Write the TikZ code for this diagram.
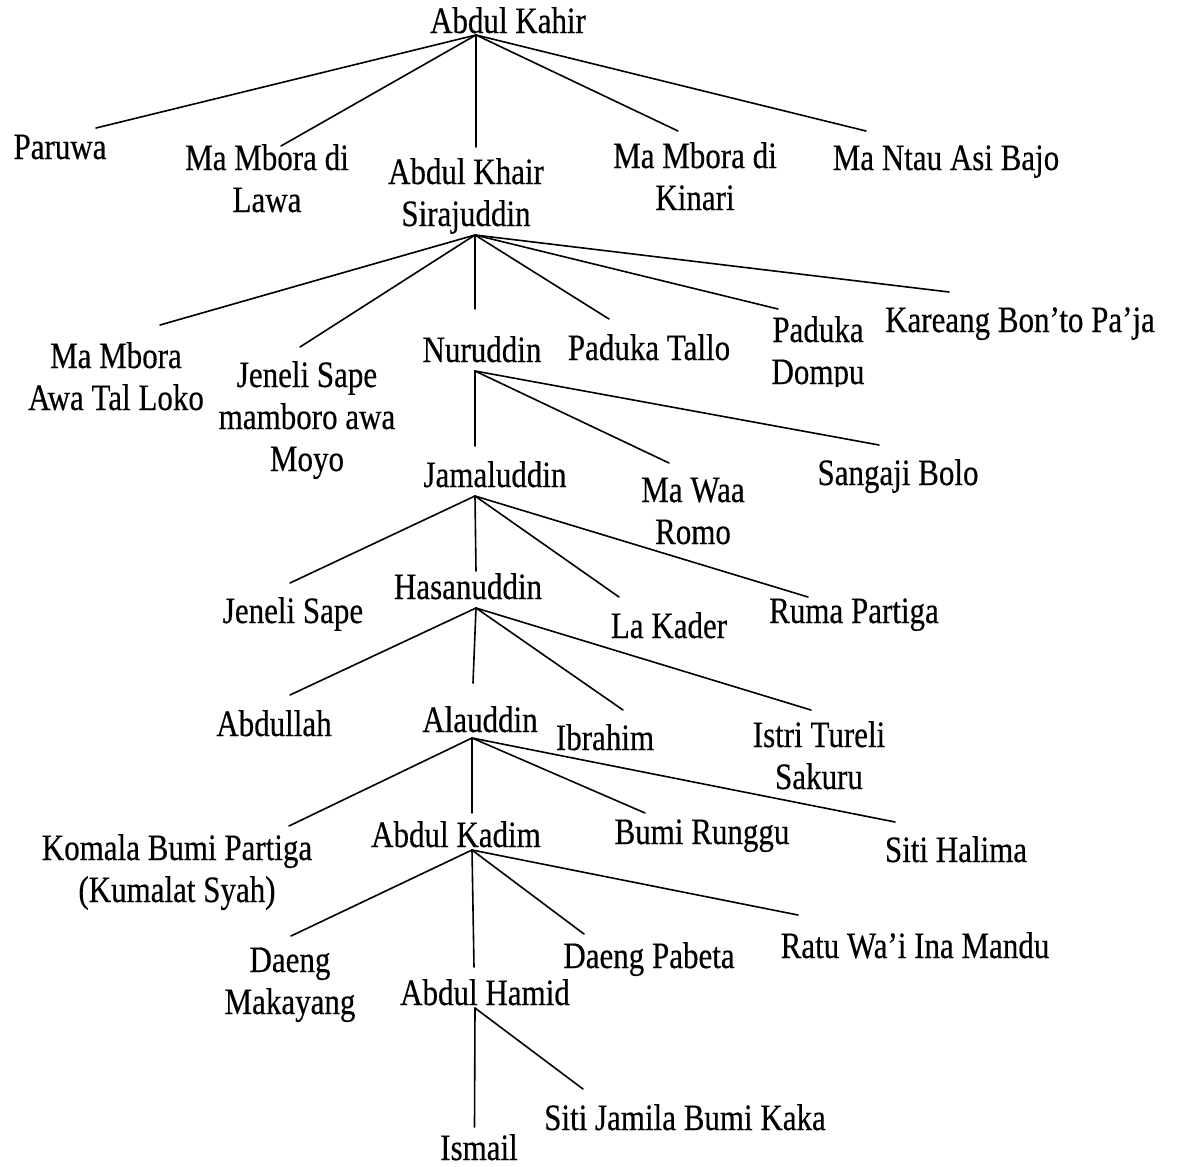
\documentclass[tikz,border=0pt]{standalone}
\usepackage{fontspec}
\setmainfont{Liberation Serif}[FakeBold=0.4]
\begin{document}
\begin{tikzpicture}[x=1pt,y=-1pt,
  lbl/.style={anchor=base,inner sep=0pt,outer sep=0pt,font=\fontsize{31}{35}\selectfont},
  link/.style={line width=1.6pt,line cap=round}]
\renewcommand{\arraystretch}{1}
\setlength{\tabcolsep}{0pt}
\newcommand{\tl}[1]{\scalebox{1}[1.2]{#1}}
\newcommand{\ml}[1]{\scalebox{1}[1.2]{\begin{tabular}[t]{c}#1\end{tabular}}}
\useasboundingbox[fill=white] (0,0) rectangle (1178,1167);
% nodes
\node[lbl] (kahir) at (508,33) {\tl{Abdul Kahir}};
\node[lbl] (paruwa) at (60,159) {\tl{Paruwa}};
\node[lbl] (lawa) at (267,170) {\ml{Ma Mbora di\\Lawa}};
\node[lbl] (khair) at (466,184) {\ml{Abdul Khair\\Sirajuddin}};
\node[lbl] (kinari) at (695,168) {\ml{Ma Mbora di\\Kinari}};
\node[lbl] (bajo) at (946,170) {\tl{Ma Ntau Asi Bajo}};
\node[lbl] (loko) at (116,368) {\ml{Ma Mbora\\Awa Tal Loko}};
\node[lbl] (moyo) at (307,387) {\ml{Jeneli Sape\\mamboro awa\\Moyo}};
\node[lbl] (nuruddin) at (482,362) {\tl{Nuruddin}};
\node[lbl] (tallo) at (649,360) {\tl{Paduka Tallo}};
\begin{scope}
\clip (740,290) rectangle (900,386);
\node[lbl] (dompu) at (818,342) {\ml{Paduka\\Dompu}};
\end{scope}
\node[lbl] (kareang) at (1020,332) {\tl{Kareang Bon’to Pa’ja}};
\node[lbl] (jamaluddin) at (495,487) {\tl{Jamaluddin}};
\node[lbl] (mawaa) at (693,502) {\ml{Ma Waa\\Romo}};
\node[lbl] (sangaji) at (898,485) {\tl{Sangaji Bolo}};
\node[lbl] (jeneli) at (293,623) {\tl{Jeneli Sape}};
\node[lbl] (hasanuddin) at (468,599) {\tl{Hasanuddin}};
\node[lbl] (lakader) at (669,638) {\tl{La Kader}};
\node[lbl] (ruma) at (854,623) {\tl{Ruma Partiga}};
\node[lbl] (abdullah) at (274,736) {\tl{Abdullah}};
\node[lbl] (alauddin) at (480,732) {\tl{Alauddin}};
\node[lbl] (ibrahim) at (605,750) {\tl{Ibrahim}};
\node[lbl] (istri) at (819,747) {\ml{Istri Tureli\\Sakuru}};
\node[lbl] (komala) at (177,860) {\ml{Komala Bumi Partiga\\(Kumalat Syah)}};
\node[lbl] (kadim) at (456,847) {\tl{Abdul Kadim}};
\node[lbl] (runggu) at (702,844) {\tl{Bumi Runggu}};
\node[lbl] (halima) at (956,862) {\tl{Siti Halima}};
\node[lbl] (makayang) at (290,972) {\ml{Daeng\\Makayang}};
\node[lbl] (hamid) at (485,1005) {\tl{Abdul Hamid}};
\node[lbl] (pabeta) at (649,968) {\tl{Daeng Pabeta}};
\node[lbl] (ratu) at (915,958) {\tl{Ratu Wa’i Ina Mandu}};
\node[lbl] (ismail) at (479,1160) {\tl{Ismail}};
\node[lbl] (jamila) at (685,1130) {\tl{Siti Jamila Bumi Kaka}};
% junction points (below parents)
\coordinate (kahirJ) at (476,35);
\coordinate (khairJ) at (475,235);
\coordinate (nuruddinJ) at (475,371);
\coordinate (jamaluddinJ) at (475,496);
\coordinate (hasanuddinJ) at (476,608);
\coordinate (alauddinJ) at (472,738);
\coordinate (kadimJ) at (472,850);
\coordinate (hamidJ) at (475,1008);
% line ends (above children)
\coordinate (paruwaT) at (96,128);
\coordinate (lawaT) at (281,146);
\coordinate (khairT) at (476,147);
\coordinate (kinariT) at (678,131);
\coordinate (bajoT) at (866,131);
\coordinate (lokoT) at (160,325);
\coordinate (moyoT) at (300,347);
\coordinate (nuruddinT) at (475,309);
\coordinate (talloT) at (609,319);
\coordinate (dompuT) at (778,309);
\coordinate (kareangT) at (949,292);
\coordinate (jamaluddinT) at (475,446);
\coordinate (mawaaT) at (669,463);
\coordinate (sangajiT) at (879,445);
\coordinate (jeneliT) at (290,583);
\coordinate (hasanuddinT) at (476,571);
\coordinate (lakaderT) at (619,597);
\coordinate (rumaT) at (808,597);
\coordinate (abdullahT) at (290,695);
\coordinate (alauddinT) at (473,683);
\coordinate (ibrahimT) at (623,710);
\coordinate (istriT) at (811,710);
\coordinate (komalaT) at (289,826);
\coordinate (kadimT) at (472,813);
\coordinate (rungguT) at (645,813);
\coordinate (halimaT) at (895,822);
\coordinate (makayangT) at (291,936);
\coordinate (hamidT) at (474,967);
\coordinate (pabetaT) at (584,934);
\coordinate (ratuT) at (798,915);
\coordinate (ismailT) at (474.5,1127);
\coordinate (jamilaT) at (583,1089);
% connectors
\foreach \c in {paruwaT,lawaT,khairT,kinariT,bajoT} \draw[link] (kahirJ) -- (\c);
\foreach \c in {lokoT,moyoT,nuruddinT,talloT,dompuT,kareangT} \draw[link] (khairJ) -- (\c);
\foreach \c in {jamaluddinT,mawaaT,sangajiT} \draw[link] (nuruddinJ) -- (\c);
\foreach \c in {jeneliT,hasanuddinT,lakaderT,rumaT} \draw[link] (jamaluddinJ) -- (\c);
\foreach \c in {abdullahT,alauddinT,ibrahimT,istriT} \draw[link] (hasanuddinJ) -- (\c);
\foreach \c in {komalaT,kadimT,rungguT,halimaT} \draw[link] (alauddinJ) -- (\c);
\foreach \c in {makayangT,hamidT,pabetaT,ratuT} \draw[link] (kadimJ) -- (\c);
\foreach \c in {ismailT,jamilaT} \draw[link] (hamidJ) -- (\c);
\end{tikzpicture}
\end{document}
